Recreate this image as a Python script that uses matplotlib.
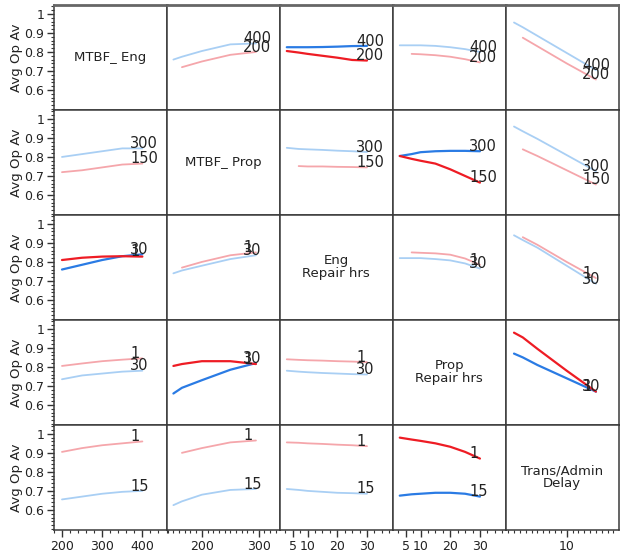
import numpy as np
import matplotlib.pyplot as plt
from matplotlib.ticker import MultipleLocator, FixedLocator

nan = np.nan

# factors on the diagonal, and the two levels traced along each row
factors = ["MTBF_ Eng", "MTBF_ Prop", "Eng\nRepair hrs", "Prop\nRepair hrs", "Trans/Admin\nDelay"]
hi_levels = ["400", "300", "30", "30", "15"]   # blue trace
lo_levels = ["200", "150", "1", "1", "1"]      # red trace

# x grid for each column (factor on the x axis)
x_eng = [200, 250, 300, 350, 400]
x_prop = [150, 165, 200, 250, 295]
x_eng_rep = [3, 7, 10, 15, 20, 25, 30]
x_prop_rep = [3, 7, 10, 15, 20, 25, 30]
x_delay = [1, 2.5, 5, 10, 15]

# row 1: MTBF_Eng 400 / 200
eng_prop_hi = [0.76, 0.775, 0.805, 0.84, 0.845]
eng_prop_lo = [nan, 0.72, 0.75, 0.785, 0.80]
eng_engrep_hi = [0.825, 0.825, 0.825, 0.826, 0.828, 0.831, 0.832]
eng_engrep_lo = [0.805, 0.797, 0.79, 0.78, 0.77, 0.758, 0.755]
eng_proprep_hi = [0.835, 0.835, 0.835, 0.832, 0.825, 0.815, 0.80]
eng_proprep_lo = [nan, 0.79, 0.788, 0.783, 0.775, 0.762, 0.745]
eng_delay_hi = [0.955, 0.93, 0.885, 0.795, 0.705]
eng_delay_lo = [nan, 0.875, 0.83, 0.74, 0.655]

# row 2: MTBF_Prop 300 / 150
prop_eng_hi = [0.80, 0.815, 0.83, 0.845, 0.845]
prop_eng_lo = [0.72, 0.73, 0.745, 0.76, 0.765]
prop_engrep_hi = [0.848, 0.842, 0.84, 0.837, 0.833, 0.83, 0.826]
prop_engrep_lo = [nan, 0.752, 0.75, 0.75, 0.748, 0.747, 0.745]
prop_proprep_hi = [0.805, 0.815, 0.825, 0.83, 0.832, 0.832, 0.83]
prop_proprep_lo = [0.805, 0.79, 0.78, 0.765, 0.735, 0.70, 0.665]
prop_delay_hi = [0.96, 0.935, 0.895, 0.81, 0.725]
prop_delay_lo = [nan, 0.84, 0.805, 0.73, 0.655]

# row 3: Eng Repair hrs 30 / 1
engrep_eng_hi = [0.76, 0.785, 0.81, 0.83, 0.84]
engrep_eng_lo = [0.81, 0.822, 0.828, 0.83, 0.828]
engrep_prop_hi = [0.74, 0.755, 0.78, 0.815, 0.835]
engrep_prop_lo = [nan, 0.77, 0.80, 0.835, 0.85]
engrep_proprep_hi = [0.82, 0.82, 0.82, 0.815, 0.808, 0.792, 0.765]
engrep_proprep_lo = [nan, 0.85, 0.848, 0.845, 0.838, 0.818, 0.785]
engrep_delay_hi = [0.94, 0.915, 0.875, 0.78, 0.685]
engrep_delay_lo = [nan, 0.93, 0.89, 0.80, 0.715]

# row 4: Prop Repair hrs 30 / 1
proprep_eng_hi = [0.735, 0.755, 0.765, 0.775, 0.78]
proprep_eng_lo = [0.805, 0.818, 0.83, 0.838, 0.845]
proprep_prop_hi = [0.66, 0.69, 0.73, 0.785, 0.82]
proprep_prop_lo = [0.805, 0.815, 0.83, 0.83, 0.815]
proprep_engrep_hi = [0.78, 0.775, 0.772, 0.768, 0.765, 0.762, 0.76]
proprep_engrep_lo = [0.84, 0.837, 0.835, 0.833, 0.83, 0.828, 0.825]
proprep_delay_hi = [0.87, 0.85, 0.81, 0.74, 0.67]
proprep_delay_lo = [0.98, 0.955, 0.895, 0.78, 0.67]

# row 5: Trans/Admin Delay 15 / 1
delay_eng_hi = [0.655, 0.67, 0.685, 0.695, 0.70]
delay_eng_lo = [0.905, 0.925, 0.94, 0.95, 0.96]
delay_prop_hi = [0.625, 0.645, 0.68, 0.705, 0.71]
delay_prop_lo = [nan, 0.90, 0.925, 0.955, 0.965]
delay_engrep_hi = [0.71, 0.705, 0.70, 0.695, 0.69, 0.688, 0.685]
delay_engrep_lo = [0.955, 0.953, 0.95, 0.947, 0.943, 0.94, 0.935]
delay_proprep_hi = [0.675, 0.682, 0.685, 0.69, 0.69, 0.685, 0.67]
delay_proprep_lo = [0.98, 0.97, 0.963, 0.95, 0.932, 0.905, 0.87]

col_x = [x_eng, x_prop, x_eng_rep, x_prop_rep, x_delay]
cells = {
    (0, 1): (eng_prop_hi, eng_prop_lo), (0, 2): (eng_engrep_hi, eng_engrep_lo),
    (0, 3): (eng_proprep_hi, eng_proprep_lo), (0, 4): (eng_delay_hi, eng_delay_lo),
    (1, 0): (prop_eng_hi, prop_eng_lo), (1, 2): (prop_engrep_hi, prop_engrep_lo),
    (1, 3): (prop_proprep_hi, prop_proprep_lo), (1, 4): (prop_delay_hi, prop_delay_lo),
    (2, 0): (engrep_eng_hi, engrep_eng_lo), (2, 1): (engrep_prop_hi, engrep_prop_lo),
    (2, 3): (engrep_proprep_hi, engrep_proprep_lo), (2, 4): (engrep_delay_hi, engrep_delay_lo),
    (3, 0): (proprep_eng_hi, proprep_eng_lo), (3, 1): (proprep_prop_hi, proprep_prop_lo),
    (3, 2): (proprep_engrep_hi, proprep_engrep_lo), (3, 4): (proprep_delay_hi, proprep_delay_lo),
    (4, 0): (delay_eng_hi, delay_eng_lo), (4, 1): (delay_prop_hi, delay_prop_lo),
    (4, 2): (delay_engrep_hi, delay_engrep_lo), (4, 3): (delay_proprep_hi, delay_proprep_lo),
}
# interactions drawn in full colour (the rest are faded)
strong = {(0, 2), (2, 0), (1, 3), (3, 1), (3, 4), (4, 3)}

xlims = [(180, 461), (138.6, 337), (0.67, 38.7), (0.67, 38.7), (-0.4, 18.9)]
xmajor = [[200, 300, 400], [200, 300], [5, 10, 20, 30], [5, 10, 20, 30], [10]]
xminor = [20, 10, 2.5, 2.5, 1]

fig = plt.figure(figsize=(6.2, 5.56), dpi=100)
axs = fig.subplots(5, 5)
fig.subplots_adjust(left=0.087, right=0.998, top=0.991, bottom=0.047, wspace=0, hspace=0)

for i in range(5):
    for j in range(5):
        ax = axs[i, j]
        ax.set_xlim(*xlims[j])
        ax.set_ylim(0.495, 1.047)
        for s in ax.spines.values():
            s.set_color('#3a3a3a')
            s.set_linewidth(1.1)
        if i == 0:
            ax.spines['top'].set_linewidth(2)
            ax.spines['top'].set_color('#666666')

        # ticks only on the outer edges
        ax.xaxis.set_major_locator(FixedLocator(xmajor[j]))
        ax.xaxis.set_minor_locator(MultipleLocator(xminor[j]))
        ax.yaxis.set_major_locator(FixedLocator([0.6, 0.7, 0.8, 0.9, 1.0]))
        ax.yaxis.set_minor_locator(MultipleLocator(0.02))
        ax.tick_params(which='major', direction='out', length=5, width=1, color='#333333',
                       labelsize=9, pad=2, labelcolor='#222222')
        ax.tick_params(which='minor', direction='out', length=2.5, width=0.8, color='#333333')
        if i < 4:
            ax.tick_params(axis='x', which='both', bottom=False, labelbottom=False)
        if j > 0:
            ax.tick_params(axis='y', which='both', left=False, labelleft=False)
        else:
            ax.set_yticklabels(["0.6", "0.7", "0.8", "0.9", "1"])
            ax.set_ylabel("Avg Op Av", fontsize=9.5, labelpad=1, color='#222222')

        if i == j:
            ax.text(0.5, 0.5, factors[i], transform=ax.transAxes, ha='center', va='center',
                    fontsize=9.5, color='#222222', linespacing=1.0)
            continue

        hi, lo = cells[(i, j)]
        if (i, j) in strong:
            c_hi, c_lo, lw = '#2a7be4', '#ee1c24', 1.6
        else:
            c_hi, c_lo, lw = '#a9cff4', '#f5a6ab', 1.3
        ax.plot(col_x[j], hi, color=c_hi, lw=lw, solid_capstyle='round')
        ax.plot(col_x[j], lo, color=c_lo, lw=lw, solid_capstyle='round')
        ax.annotate(hi_levels[i], xy=(0.675, hi[-1] + 0.025), xycoords=('axes fraction', 'data'),
                    ha='left', va='center', fontsize=10.5, color='#222222')
        ax.annotate(lo_levels[i], xy=(0.675, lo[-1] + 0.025), xycoords=('axes fraction', 'data'),
                    ha='left', va='center', fontsize=10.5, color='#222222')

fig.savefig("out.png", dpi=100)
